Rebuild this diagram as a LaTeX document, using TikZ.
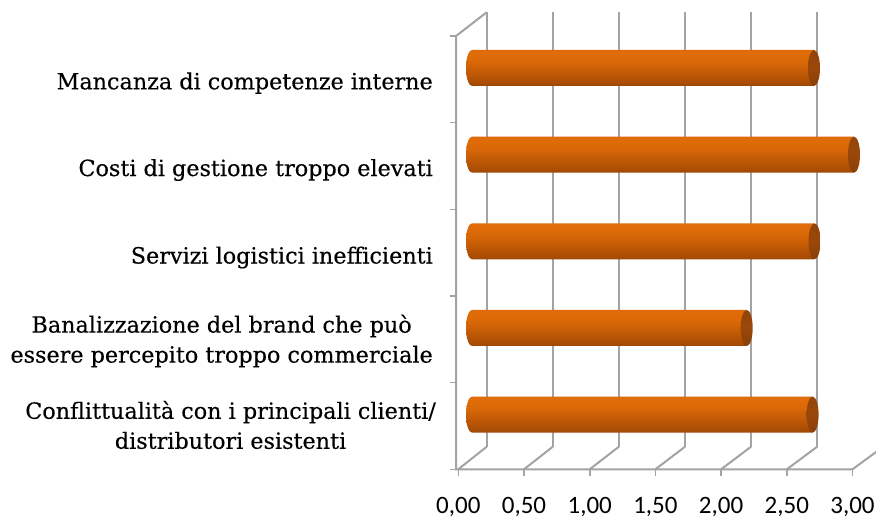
\documentclass[tikz,border=0pt]{standalone}
\usepackage{fontspec}
\setmainfont[FakeBold=0.3]{DejaVu Serif}
\newfontfamily\numfont{Carlito}
\definecolor{gridgray}{HTML}{A3A3A3}
\definecolor{bA}{HTML}{682D02}
\definecolor{bB}{HTML}{873B03}
\definecolor{bC}{HTML}{B35205}
\definecolor{bD}{HTML}{D86707}
\definecolor{bE}{HTML}{E16D08}
\definecolor{bF}{HTML}{CC6106}
\definecolor{bG}{HTML}{B04F06}
\definecolor{cA}{HTML}{7A3804}
\definecolor{cB}{HTML}{9A470A}
\definecolor{cC}{HTML}{8E4208}
\pgfdeclareverticalshading{barshade}{100bp}{color(0bp)=(bA); color(12bp)=(bB); color(35bp)=(bC); color(58bp)=(bD); color(72bp)=(bE); color(90bp)=(bF); color(100bp)=(bG)}
\pgfdeclareverticalshading{capshade}{100bp}{color(0bp)=(cA); color(50bp)=(cB); color(100bp)=(cC)}
\begin{document}
\begin{tikzpicture}[x=1pt,y=-1pt,
  gridline/.style={draw=gridgray,line width=2pt},
  ticklines/.style={draw=gridgray,line width=1.6pt},
  catlabel/.style={font=\fontsize{22.3}{30}\selectfont,inner sep=0pt,align=center},
  numlabel/.style={font=\numfont\fontsize{25}{30}\selectfont,inner sep=0pt}]
\useasboundingbox (0,0) rectangle (876,519);
\fill[white] (0,0) rectangle (876,519);
\clip (0,0) rectangle (876,519);
% back wall grid lines and floor diagonals
\foreach \k/\t in {0/{0,00},1/{0,50},2/{1,00},3/{1,50},4/{2,00},5/{2,50},6/{3,00}}{
  \pgfmathsetmacro\xb{486.7+66.1*\k}
  \pgfmathsetmacro\xf{458.3+65.7*\k}
  \coordinate (bt\k) at (\xb,12.3);
  \coordinate (bb\k) at (\xb,446.7);
  \coordinate (ff\k) at (\xf,469.3);
  \coordinate (fd\k) at (\xf,475.8);
  \draw[gridline] (bt\k) -- (bb\k);
  \draw[gridline] (ff\k) -- (bb\k);
  \draw[ticklines] (ff\k) -- (fd\k);
  \node[numlabel,anchor=base] (n\k) at (\xf,513) {\t};
}
% left wall
\coordinate (lwt) at (456,36);
\coordinate (lwb) at (456,469.3);
\draw[gridline] (bt0) -- (lwt) -- (lwb) -- (ff6);
\foreach \j in {0,...,5}{
  \pgfmathsetmacro\yy{36+86.66*\j}
  \coordinate (lt\j) at (449.5,\yy);
  \coordinate (lr\j) at (456,\yy);
  \draw[ticklines] (lt\j) -- (lr\j);
}
% bars
\foreach \j/\xr in {0/814,1/854,2/814.5,3/746.7,4/812.6}{
  \pgfmathsetmacro\yt{50+86.66*\j}
  \pgfmathsetmacro\yb{\yt+36}
  \pgfmathsetmacro\ym{\yt+18}
  \path[shading=barshade] (\xr,\yt) -- (472,\yt) arc[start angle=90,end angle=270,x radius=6pt,y radius=18pt] -- (\xr,\yb) -- cycle;
  \path[shading=capshade] (\xr,\ym) ellipse[x radius=6pt,y radius=18pt];
}
% category labels
\node[catlabel,anchor=base east] (l1) at (433,89.3) {Mancanza di competenze interne};
\node[catlabel,anchor=base east] (l2) at (433,176) {Costi di gestione troppo elevati};
\node[catlabel,anchor=base east] (l3) at (433,263.5) {Servizi logistici inefficienti};
\node[catlabel,anchor=east] (l4) at (433,341) {Banalizzazione del brand che può\\essere percepito troppo commerciale};
\node[catlabel,anchor=east] (l5) at (436,425) {Conflittualità con i principali clienti/\\distributori esistenti};
\end{tikzpicture}
\end{document}
